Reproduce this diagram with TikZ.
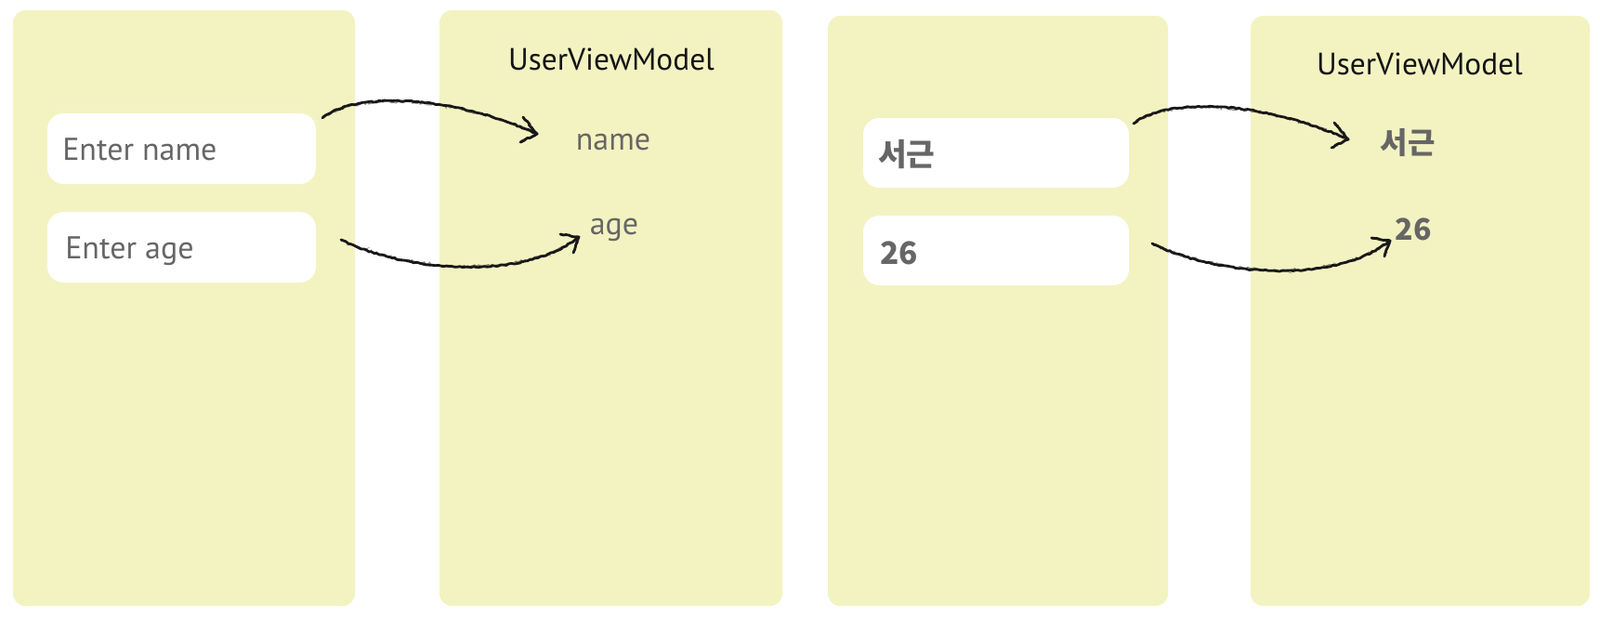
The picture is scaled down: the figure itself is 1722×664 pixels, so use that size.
\documentclass[tikz,border=0pt]{standalone}
\usepackage{fontspec}
\setmainfont{PT Sans}
\newfontfamily\krfont{Noto Sans CJK KR}
\usetikzlibrary{decorations.pathmorphing,calc}
\definecolor{panelfill}{RGB}{243,243,194}
\definecolor{txtgray}{RGB}{102,102,102}
\definecolor{ink}{RGB}{25,25,25}
\tikzset{
  panel/.style={rectangle, rounded corners=10pt, fill=panelfill, draw=none, inner sep=0pt, outer sep=0pt},
  field/.style={rectangle, rounded corners=13pt, fill=white, draw=none, inner sep=0pt, outer sep=0pt,
                minimum width=216.75pt, minimum height=57pt},
  title/.style={inner sep=0pt, anchor=base, text=black!92, font=\fontsize{25}{30}\selectfont},
  val/.style={inner sep=0pt, anchor=base, text=txtgray, font=\fontsize{25.5}{30}\selectfont},
  krval/.style={inner sep=0pt, anchor=base, text=txtgray, font=\krfont\bfseries\fontsize{24}{28}\selectfont},
  hint/.style={inner sep=0pt, anchor=base west, text=txtgray, font=\fontsize{25.5}{30}\selectfont},
  krhint/.style={inner sep=0pt, anchor=base west, text=txtgray, font=\krfont\bfseries\fontsize{25}{30}\selectfont},
  sketch/.style={draw=ink, line width=2.1pt, line cap=round, line join=round, decorate,
                 decoration={random steps, segment length=2.2pt, amplitude=0.5pt}},
  sketchb/.style={draw=ink, opacity=0.5, line width=0.9pt, line cap=round, decorate,
                 decoration={random steps, segment length=1.5pt, amplitude=1.2pt}},
}
\begin{document}
\begin{tikzpicture}[x=0.75pt,y=-0.75pt]
\useasboundingbox (0,0) rectangle (1722,664);
% panels
\node[panel, minimum width=276pt, minimum height=480.75pt] (p1) at (198,331.5) {};
\node[panel, minimum width=276.75pt, minimum height=480.75pt] (p2) at (657.5,331.5) {};
\node[panel, minimum width=274.5pt, minimum height=476.25pt] (p3) at (1074,334.5) {};
\node[panel, minimum width=273.75pt, minimum height=476.25pt] (p4) at (1528.5,334.5) {};
% fields, left pair
\node[field] (f1) at (195.5,160) {};
\node[field] (f2) at (195.5,266) {};
\node[hint] (h1) at (67,172) {Enter name};
\node[hint] (h2) at (70,278) {Enter age};
% fields, right pair
\node[field, minimum width=214.5pt, minimum height=56.25pt] (f3) at (1072,164.5) {};
\node[field, minimum width=214.5pt, minimum height=56.25pt] (f4) at (1072,269.5) {};
\node[krhint] (h3) at (945,178) {서근};
\node[krhint] (h4) at (947,284) {26};
% view model texts
\node[title] (vm1) at (658,75) {UserViewModel};
\node[title] (vm2) at (1528,80) {UserViewModel};
\node[val] (n1) at (660,161) {name};
\node[val] (a1) at (661,252) {age};
\node[krval] (n2) at (1515,165) {서근};
\node[krval] (a2) at (1521,258) {26};
% arrow end points
\coordinate (s1) at (347,127);  \coordinate (e1) at (578,144);
\coordinate (u1) at (563,126);  \coordinate (l1) at (560,153);
\coordinate (s2) at (367,258);  \coordinate (e2) at (623,255);
\coordinate (u2) at (603,252);  \coordinate (l2) at (617,272);
\coordinate (s3) at (1220,133); \coordinate (e3) at (1451,150);
\coordinate (u3) at (1436,132); \coordinate (l3) at (1433,159);
\coordinate (s4) at (1240,262); \coordinate (e4) at (1496,259);
\coordinate (u4) at (1476,256); \coordinate (l4) at (1490,276);
% arrows
\draw[sketch] (s1) .. controls (380,100) and (480,100) .. (e1);
\draw[sketchb] (s1) .. controls (380,101) and (480,101) .. (e1);
\draw[sketch] (u1) -- (e1) -- (l1);
\draw[sketchb] (u1) -- (e1) -- (l1);
\draw[sketch] (s2) .. controls (430,290) and (560,305) .. (e2);
\draw[sketchb] (s2) .. controls (430,289) and (560,304) .. (e2);
\draw[sketch] (u2) -- (e2) -- (l2);
\draw[sketchb] (u2) -- (e2) -- (l2);
\draw[sketch] (s3) .. controls (1253,106) and (1353,106) .. (e3);
\draw[sketchb] (s3) .. controls (1253,107) and (1353,107) .. (e3);
\draw[sketch] (u3) -- (e3) -- (l3);
\draw[sketchb] (u3) -- (e3) -- (l3);
\draw[sketch] (s4) .. controls (1303,294) and (1433,309) .. (e4);
\draw[sketchb] (s4) .. controls (1303,293) and (1433,308) .. (e4);
\draw[sketch] (u4) -- (e4) -- (l4);
\draw[sketchb] (u4) -- (e4) -- (l4);
\end{tikzpicture}
\end{document}
